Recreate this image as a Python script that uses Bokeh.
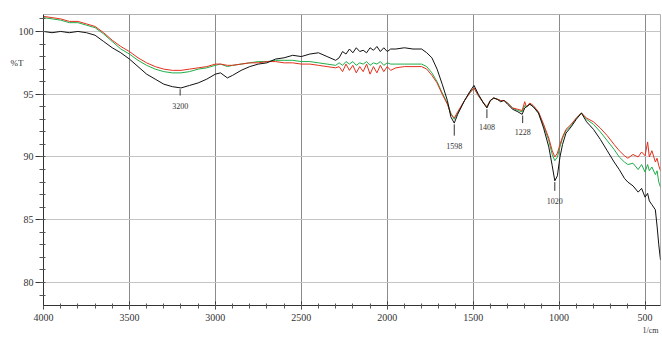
from bokeh.plotting import figure
from bokeh.models import Range1d, FixedTicker, ColumnDataSource, LinearAxis, Title
from bokeh.embed import file_html
from bokeh.resources import INLINE
from bokeh.core.properties import value

wn = [4000,3950,3900,3850,3800,3750,3700,3650,3600,3550,3500,3450,3400,3350,3300,3250,3200,3150,3100,3050,
      3000,2970,2930,2900,2850,2800,2750,2700,2650,2600,2550,2500,2450,2400,2350,2300,2280,2260,2240,2220,
      2200,2180,2160,2140,2120,2100,2080,2060,2040,2020,2000,1980,1950,1900,1850,1800,1770,1740,1710,1680,
      1650,1630,1610,1590,1550,1520,1495,1470,1440,1420,1400,1380,1360,1340,1320,1300,1270,1240,1215,1200,
      1190,1170,1150,1120,1090,1060,1040,1025,1010,995,980,960,930,900,870,840,800,760,720,680,
      650,620,600,570,540,520,500,485,475,460,440,430,420,410]

black = [100.0,99.9,100.0,99.9,100.0,99.9,99.7,99.2,98.7,98.3,97.8,97.2,96.6,96.2,95.8,95.6,95.5,95.7,95.9,96.2,
         96.6,96.7,96.3,96.5,96.9,97.2,97.4,97.5,97.8,97.9,98.1,98.0,98.2,98.3,98.0,97.7,97.9,98.4,98.2,98.6,
         98.3,98.7,98.4,98.5,98.3,98.7,98.5,98.8,98.4,98.7,98.4,98.6,98.6,98.7,98.6,98.6,98.3,97.9,97.0,95.8,
         94.5,93.2,92.7,93.4,94.5,95.2,95.7,95.0,94.3,93.9,94.5,94.7,94.6,94.4,94.5,94.2,93.8,93.6,93.4,93.9,
         94.0,94.2,94.0,93.5,92.3,90.8,89.3,88.1,88.5,90.0,91.0,91.9,92.4,93.0,93.5,92.8,92.2,91.4,90.5,89.6,
         89.0,88.3,88.0,87.7,87.2,87.5,86.8,87.1,86.5,86.2,85.8,84.5,83.0,81.8]

red = [101.2,101.1,101.0,100.8,100.8,100.6,100.4,99.9,99.3,98.8,98.4,97.9,97.5,97.2,97.0,96.9,96.9,97.0,97.1,97.2,
       97.4,97.4,97.3,97.3,97.4,97.5,97.5,97.6,97.6,97.5,97.5,97.4,97.4,97.3,97.2,97.1,97.2,96.8,97.4,96.9,
       97.3,96.7,97.2,96.8,97.4,96.6,97.2,96.7,97.3,96.8,97.2,96.9,97.1,97.2,97.2,97.2,97.0,96.5,95.9,95.0,
       94.2,93.4,93.1,93.6,94.5,95.1,95.5,94.9,94.3,94.0,94.5,94.7,94.6,94.5,94.5,94.3,93.9,93.8,93.7,94.4,
       94.0,94.3,94.1,93.6,92.6,91.5,90.5,90.0,90.3,91.0,91.6,92.2,92.6,93.1,93.5,93.1,92.8,92.3,91.7,91.0,
       90.5,90.1,89.9,90.2,90.0,90.4,90.1,91.2,90.0,90.5,89.6,89.9,89.3,88.9]

green = [101.1,101.0,100.9,100.7,100.7,100.5,100.3,99.8,99.2,98.6,98.2,97.7,97.3,97.0,96.8,96.7,96.7,96.8,97.0,97.1,
         97.3,97.4,97.2,97.3,97.4,97.5,97.6,97.6,97.7,97.7,97.7,97.6,97.6,97.5,97.4,97.3,97.5,97.3,97.6,97.4,
         97.6,97.3,97.5,97.4,97.6,97.3,97.5,97.4,97.6,97.3,97.5,97.4,97.4,97.4,97.4,97.4,97.2,96.7,96.0,95.1,
         94.3,93.5,93.0,93.5,94.5,95.1,95.5,94.9,94.3,94.0,94.5,94.7,94.6,94.5,94.5,94.3,93.9,93.7,93.6,94.1,
         94.0,94.2,94.0,93.5,92.5,91.3,90.2,89.7,90.0,90.8,91.5,92.1,92.5,93.1,93.5,93.0,92.6,92.0,91.3,90.6,
         90.0,89.6,89.4,89.5,89.0,89.4,88.8,89.4,88.9,89.2,88.6,88.9,88.0,87.6]

peak_text = ["3200", "1598", "1408", "1228", "1020"]
peak_x = [3205, 1610, 1420, 1212, 1025]
peak_top = [95.4, 92.6, 93.8, 93.3, 88.0]
peak_bot = [94.9, 91.7, 93.1, 92.7, 87.3]
label_y = [94.1, 90.9, 92.4, 92.0, 86.5]

x_ticks = [4000, 3500, 3000, 2500, 2000, 1500, 1000, 500]
y_ticks = [80, 85, 90, 95, 100]
y_unit = "%T"
y_unit_at = 97.5
x_unit = "1/cm"

p = figure(width=662, height=338, output_backend="svg", toolbar_location=None,
           x_range=Range1d(4000, 410), y_range=Range1d(78.17, 101.35),
           min_border_left=43, min_border_right=2, min_border_top=14, min_border_bottom=33)
p.background_fill_color = "white"
p.border_fill_color = "white"
p.outline_line_color = "#b0b0b0"

for ax in (p.xaxis, p.yaxis):
    ax.axis_line_color = "#333333"
    ax.major_tick_line_color = "#333333"
    ax.minor_tick_line_color = "#555555"
    ax.major_label_text_font = "Liberation Serif"
    ax.major_label_text_font_size = "10px"
    ax.major_label_text_color = "#333333"

p.xaxis.ticker = FixedTicker(ticks=x_ticks, minor_ticks=list(range(4000, 400, -100)))
p.yaxis.ticker = FixedTicker(ticks=y_ticks, minor_ticks=list(range(79, 102)))
p.xaxis.major_tick_out = 4
p.xaxis.major_tick_in = 4
p.xaxis.minor_tick_out = 3
p.xaxis.minor_tick_in = 2
p.xaxis.major_label_standoff = 4
p.yaxis.major_tick_out = 8
p.yaxis.major_tick_in = 0
p.yaxis.minor_tick_out = 4
p.yaxis.minor_tick_in = 2
p.yaxis.major_label_standoff = 2

unit_axis = LinearAxis(ticker=FixedTicker(ticks=[y_unit_at], minor_ticks=[]),
                       major_label_overrides={y_unit_at: y_unit},
                       axis_line_color=None, major_tick_line_color=None, minor_tick_line_color=None,
                       major_tick_out=0, major_tick_in=0, minor_tick_out=0, minor_tick_in=0,
                       major_label_standoff=-8,
                       major_label_text_font="Liberation Serif", major_label_text_font_size="9px",
                       major_label_text_color="#333333")
p.add_layout(unit_axis, "left")

p.add_layout(Title(text=x_unit, align="right", text_font="Liberation Serif", text_font_size="8px",
                   text_font_style="normal", text_color="#333333", standoff=0, offset=2), "below")

p.xgrid.grid_line_color = "#8a8a8a"
p.xgrid.grid_line_width = 1
p.ygrid.grid_line_color = "#c4c4c4"
p.ygrid.grid_line_width = 1

p.line(wn, green, line_color="#1fae4a", line_width=1)
p.line(wn, red, line_color="#e3301c", line_width=1)
p.line(wn, black, line_color="#111111", line_width=1)

src = ColumnDataSource(dict(x=peak_x, top=peak_top, bot=peak_bot, ly=label_y, t=peak_text))
p.segment(x0="x", y0="top", x1="x", y1="bot", source=src, line_color="#333333", line_width=1)
p.text(x="x", y="ly", text="t", source=src, text_font=value("Liberation Serif"),
       text_font_size="8px", text_align="center", text_baseline="middle", text_color="#333333")

open("out.html", "w").write(file_html(p, INLINE))
